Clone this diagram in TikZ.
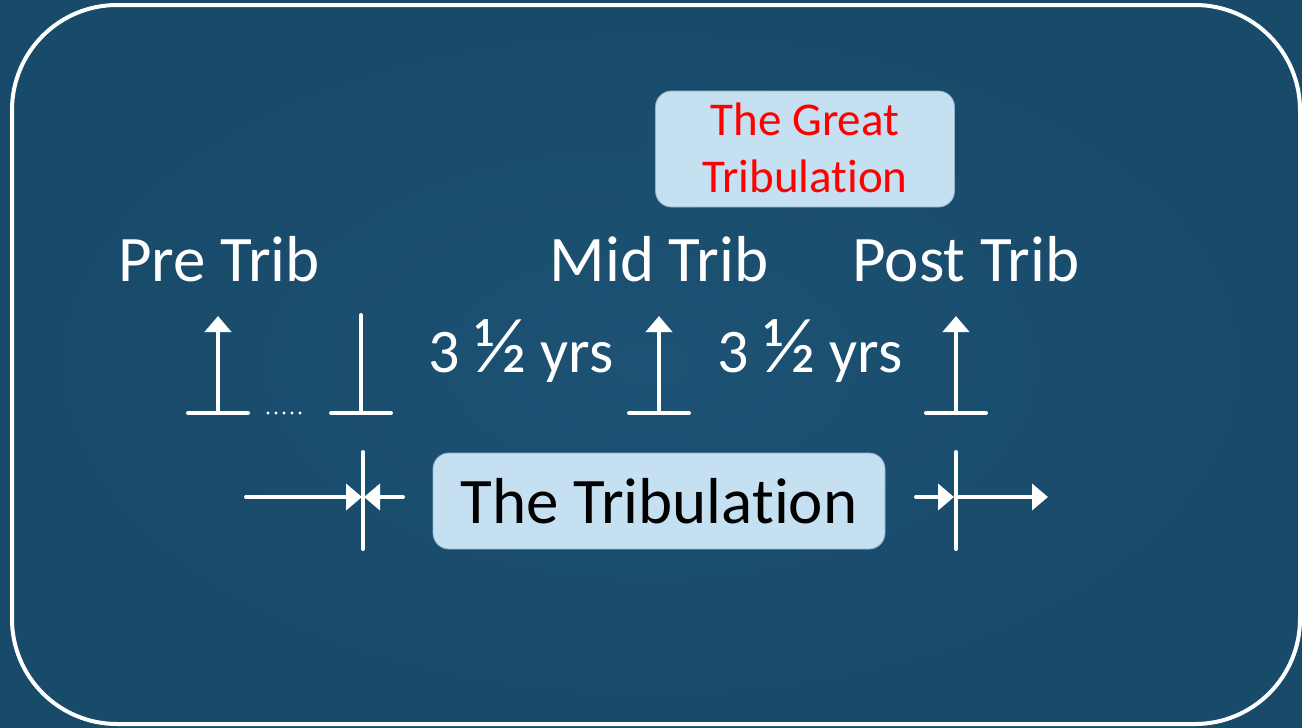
\documentclass[tikz,border=0pt]{standalone}
\usepackage{fontspec}
\setmainfont{Carlito}[RawFeature=-liga]
\usetikzlibrary{arrows.meta, positioning}

\definecolor{bgdark}{HTML}{184A69}
\definecolor{bglight}{HTML}{1D5274}
\definecolor{boxblue}{HTML}{C4E0F1}
\definecolor{boxedge}{HTML}{8FB4CB}

\newcommand{\halfyrs}{3 {\fontsize{78}{78}\selectfont ½} yrs}

\tikzset{
  bigtext/.style={text=white, font=\fontsize{65}{70}\selectfont, anchor=base, inner sep=0pt},
  yrstext/.style={text=white, font=\fontsize{62}{66}\selectfont, anchor=base, inner sep=0pt},
  redtext/.style={text=red, font=\fontsize{47}{57}\selectfont, anchor=base, inner sep=0pt},
  labelbox/.style={fill=boxblue, draw=boxedge, line width=0.8pt, rounded corners=16pt},
  wline/.style={white, line width=4pt, line cap=round},
  warrow/.style={white, line width=4pt, line cap=round, -{Triangle[length=16pt,width=26pt]}},
}

\begin{document}
\begin{tikzpicture}[x=1pt, y=-1pt]
  % Background and frame
  \useasboundingbox (0,0) rectangle (1302,728);
  \shade[inner color=bglight, outer color=bgdark] (0,0) rectangle (1302,728);
  \draw[white, line width=4pt, rounded corners=105pt] (12,5) rectangle (1300,724);

  % The Great Tribulation
  \node[labelbox, minimum width=299pt, minimum height=116pt] (great) at (805,149) {};
  \node[redtext] (greatA) at (805,135) {The Great};
  \node[redtext] (greatB) at (805,192) {Tribulation};

  % Rapture views
  \node[bigtext] (pre) at (219,281) {Pre Trib};
  \node[bigtext] (mid) at (659,281) {Mid Trib};
  \node[bigtext] (post) at (966,281) {Post Trib};

  % Half periods
  \node[yrstext] (yrsA) at (521,372) {\halfyrs};
  \node[yrstext] (yrsB) at (810,372) {\halfyrs};

  % Up arrows on a foot
  \foreach \name/\x in {pre/218, mid/659, post/956} {
    \coordinate (\name foot) at (\x,413);
    \coordinate (\name tip) at (\x,316);
    \draw[wline] ([xshift=-30pt]\name foot) -- ([xshift=30pt]\name foot);
    \draw[warrow] (\name foot) -- (\name tip);
  }

  % Plain stem and dots
  \coordinate (stemfoot) at (361,413);
  \coordinate (stemtop) at (361,315);
  \draw[wline] ([xshift=-30pt]stemfoot) -- ([xshift=30pt]stemfoot);
  \draw[wline] (stemfoot) -- (stemtop);
  \foreach \x in {268,276,...,300}
    \fill[white] (\x,413) circle (1.7pt);

  % The Tribulation
  \node[labelbox, minimum width=452pt, minimum height=96pt] (trib) at (659,501) {};
  \node[text=black, font=\fontsize{65}{70}\selectfont, anchor=base, inner sep=0pt] (tribtext) at (659,523) {The Tribulation};

  % Start marker
  \coordinate (startTop) at (363,452);
  \coordinate (startBot) at (363,549);
  \coordinate (startL) at (246,497);
  \coordinate (startR) at (403,497);
  \draw[wline] (startTop) -- (startBot);
  \draw[warrow] (startL) -- ([xshift=-1pt]startTop |- startL);
  \draw[warrow] (startR) -- ([xshift=1pt]startTop |- startR);

  % End marker
  \coordinate (endTop) at (956,452);
  \coordinate (endBot) at (956,549);
  \coordinate (endL) at (916,497);
  \coordinate (endR) at (1048,497);
  \draw[wline] (endTop) -- (endBot);
  \draw[warrow] (endL) -- ([xshift=-2pt]endTop |- endL);
  \draw[warrow] (endTop |- endL) -- (endR);
\end{tikzpicture}
\end{document}
